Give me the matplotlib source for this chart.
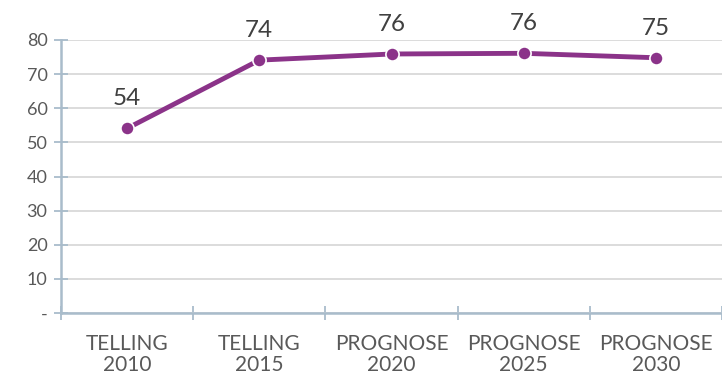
import matplotlib
matplotlib.use('Agg')
import matplotlib.pyplot as plt

categories = ['TELLING\n2010', 'TELLING\n2015', 'PROGNOSE\n2020', 'PROGNOSE\n2025', 'PROGNOSE\n2030']
values = [54.1, 74.1, 75.9, 76.1, 74.8]
labels = ['54', '74', '76', '76', '75']
yticks = [0, 10, 20, 30, 40, 50, 60, 70, 80]
ytick_labels = ['-', '10', '20', '30', '40', '50', '60', '70', '80']

PURPLE = '#8b3389'
AXIS = '#a9bccb'
GRID = '#d9d9d9'
TEXT = '#595959'

plt.rcParams['font.family'] = ['Lato', 'DejaVu Sans']

fig = plt.figure(figsize=(7.22, 3.77), dpi=100)
ax = fig.add_axes([61 / 722, 1 - 313 / 377, 661 / 722, (313 - 40) / 377])

x = list(range(len(categories)))
ax.plot(x, values, color=PURPLE, linewidth=3.5, marker='o', markersize=9.5,
        markerfacecolor=PURPLE, markeredgecolor='white', markeredgewidth=1.2,
        solid_capstyle='round', zorder=3, clip_on=False)

for xi, v, lab in zip(x, values, labels):
    ax.annotate(lab, (xi, v), xytext=(0, 23), textcoords='offset pixels',
                ha='center', va='baseline', fontsize=17.5, color='#404040')

ax.set_xlim(-0.5, len(categories) - 0.5)
ax.set_ylim(0, 80)
ax.set_yticks(yticks)
ax.set_yticklabels(ytick_labels)
ax.set_xticks([i - 0.5 for i in range(len(categories) + 1)])
ax.set_xticklabels([])
ax.set_xticks(x, minor=True)
ax.set_xticklabels(categories, minor=True)

ax.grid(axis='y', color=GRID, linewidth=1.3)
ax.set_axisbelow(True)
for s in ['top', 'right']:
    ax.spines[s].set_visible(False)
for s in ['left', 'bottom']:
    ax.spines[s].set_color(AXIS)
    ax.spines[s].set_linewidth(1.8)

ax.tick_params(axis='y', which='major', direction='inout', length=9.5, width=1.3,
               color=AXIS, labelcolor=TEXT, labelsize=13, pad=5)
ax.tick_params(axis='x', which='major', direction='inout', length=10, width=1.3,
               color=AXIS)
ax.tick_params(axis='x', which='minor', length=0, labelcolor=TEXT, labelsize=15, pad=15)
for t in ax.xaxis.get_minorticklabels():
    t.set_linespacing(1.1)

fig.savefig('out.png', dpi=100)
